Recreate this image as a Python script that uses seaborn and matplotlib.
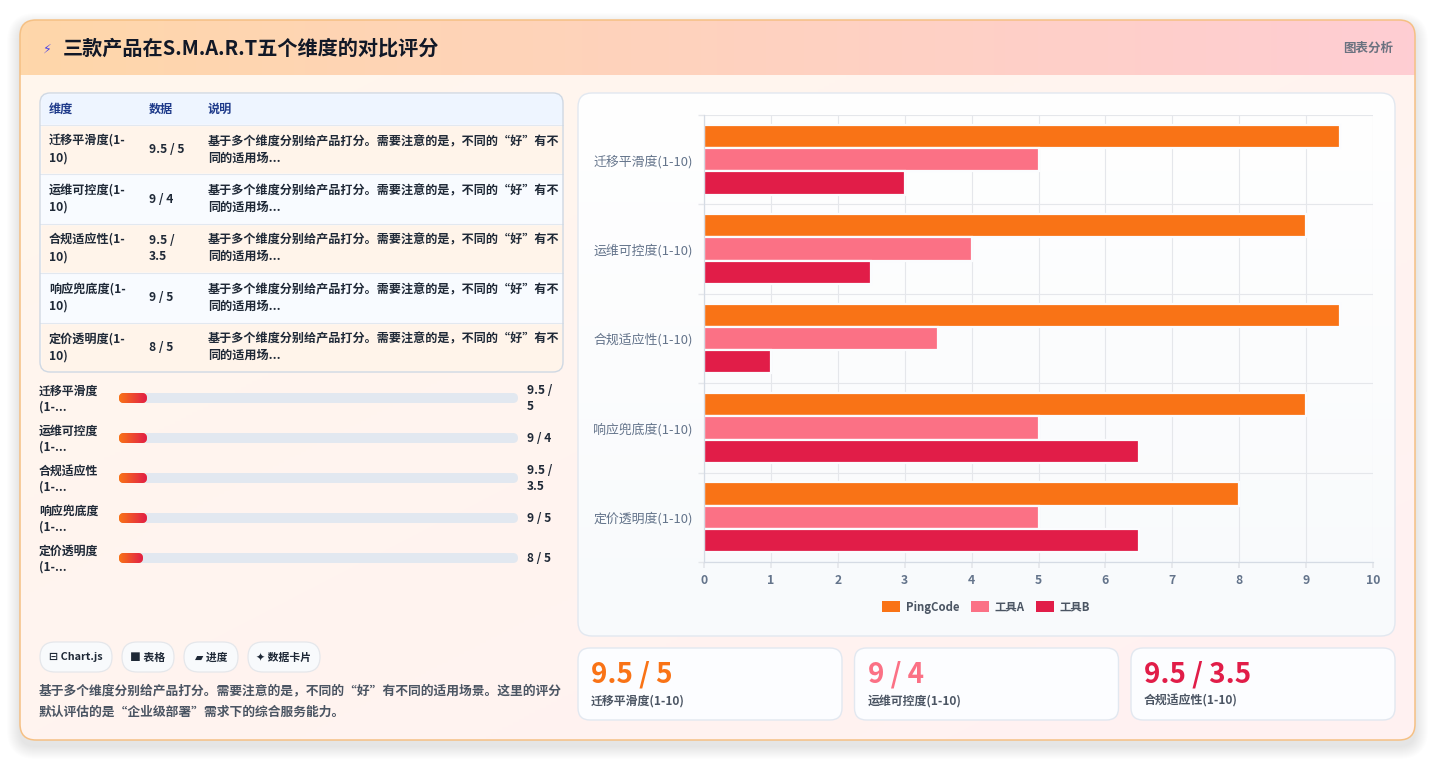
# ==========================================================
# S.M.A.R.T 五维度对比评分 - 仪表卡片
# ==========================================================

import numpy as np
import pandas as pd

import matplotlib
matplotlib.use("Agg")
import matplotlib.pyplot as plt
from matplotlib.patches import FancyBboxPatch, Rectangle
from matplotlib.colors import LinearSegmentedColormap
import seaborn as sns

# ==========================
# Data
# ==========================

dims = ["迁移平滑度(1-10)", "运维可控度(1-10)", "合规适应性(1-10)",
        "响应兜底度(1-10)", "定价透明度(1-10)"]
tools = ["PingCode", "工具A", "工具B"]
pingcode = [9.5, 9, 9.5, 9, 8]
tool_a = [5, 4, 3.5, 5, 5]
tool_b = [3, 2.5, 1, 6.5, 6.5]
progress_pct = [7, 7, 7, 7, 6]
x_ticks = list(range(0, 11))
chips = ["⊟ Chart.js", "■ 表格", "▰ 进度", "✦ 数据卡片"]
table_head = ["维度", "数据", "说明"]
row_note = "基于多个维度分别给产品打分。需要注意的是，不同的“好”有不\n同的适用场..."
note_lines = ["基于多个维度分别给产品打分。需要注意的是，不同的“好”有不同的适用场景。这里的评分",
              "默认评估的是“企业级部署”需求下的综合服务能力。"]
title = "三款产品在S.M.A.R.T五个维度的对比评分"

colors = ["#f97316", "#fb7185", "#e11d48"]
pairs = [f"{a:g} / {b:g}" for a, b in zip(pingcode, tool_a)]

# ==========================
# Figure setup
# ==========================

sns.set_theme(style="white")
plt.rcParams["font.family"] = ["Noto Sans CJK SC", "DejaVu Sans"]

fig = plt.figure(figsize=(14.35, 7.6), dpi=100)
fig.patch.set_facecolor("#ffffff")

bg = fig.add_axes([0, 0, 1, 1])
bg.set_xlim(0, 1435)
bg.set_ylim(760, 0)
bg.axis("off")


def rbox(x, y, w, h, r, fc="none", ec="none", lw=1.0, z=1, alpha=1.0):
    p = FancyBboxPatch((x, y), w, h, boxstyle=f"round,pad=0,rounding_size={r}",
                       fc=fc, ec=ec, lw=lw, zorder=z, alpha=alpha)
    bg.add_patch(p)
    return p


def gradient(clip, x, y, w, h, c1, c2, direction="h", z=1):
    t = np.linspace(0, 1, 256)
    if direction == "h":
        arr = t[None, :]
    elif direction == "v":
        arr = t[:, None]
    else:
        arr = (t[None, :] + t[:, None]) / 2
    cmap = LinearSegmentedColormap.from_list("g", [c1, c2])
    im = bg.imshow(arr, cmap=cmap, extent=[x, x + w, y + h, y], aspect="auto",
                   zorder=z, interpolation="bilinear", vmin=0, vmax=1)
    im.set_clip_path(clip)


# shadow + card
for i in range(1, 14):
    rbox(20 - i, 26 - i, 1395 + 2 * i, 720 + 2 * i, 16 + i, fc="#000000", alpha=0.007, z=0.5)

card = rbox(20, 20, 1395, 720, 16, fc="#fff6ee", z=1)
gradient(card, 20, 20, 1395, 720, "#fff7ed", "#fff1f2", "d", z=1.1)
gradient(card, 20, 20, 1395, 55, "#fed7aa", "#fecdd3", "h", z=1.2)
rbox(20, 20, 1395, 720, 16, ec="#f5c084", lw=1.1, z=9)

# header
bg.text(47, 49, "⚡", fontsize=9, color="#4f46e5", family="DejaVu Sans",
        va="center", ha="center", zorder=5)
bg.text(63, 48, title, fontsize=14.5, fontweight="bold", color="#111827",
        va="center", ha="left", zorder=5)
bg.text(1393, 48, "图表分析", fontsize=9, fontweight="bold", color="#6b7280",
        va="center", ha="right", zorder=5)

# ==========================
# Table
# ==========================

tb = rbox(40, 93, 523, 279, 10, fc="#ffffff", z=2)
head = Rectangle((40, 93), 523, 32, fc="#eef5ff", zorder=2.1)
bg.add_patch(head)
head.set_clip_path(tb)

row_h = 49.4
for j, h in enumerate(table_head):
    bg.text([49, 149, 208][j], 109, h, fontsize=8.7, fontweight="bold",
            color="#1e3a8a", va="center", zorder=5)

for i, d in enumerate(dims):
    y0 = 125 + i * row_h
    yc = y0 + row_h / 2
    r = Rectangle((40, y0), 523, row_h, fc="#fff4ea" if i % 2 == 0 else "#f8fbff", zorder=2.1)
    bg.add_patch(r)
    r.set_clip_path(tb)
    bg.plot([40, 563], [y0, y0], color="#e2e8f0", lw=0.8, zorder=2.2)
    bg.text(49, yc, d[:-3] + "\n" + d[-3:], fontsize=8.7, fontweight="bold", color="#1f2937",
            va="center", linespacing=1.35, zorder=5)
    val = pairs[i] if len(pairs[i]) <= 7 else pairs[i].replace(" / ", " /\n")
    bg.text(149, yc, val, fontsize=8.7, fontweight="bold", color="#1f2937",
            va="center", linespacing=1.35, zorder=5)
    bg.text(208, yc, row_note, fontsize=8.7, fontweight="bold", color="#1f2937",
            va="center", linespacing=1.35, zorder=5)

rbox(40, 93, 523, 279, 10, ec="#cfd8e3", lw=1, z=4)

# ==========================
# Progress bars
# ==========================

for i, d in enumerate(dims):
    yc = 398 + 40 * i
    bg.text(39, yc + 1, d[:5] + "\n(1-...", fontsize=8.6, fontweight="bold", color="#1f2937",
            va="center", linespacing=1.3, zorder=5)
    rbox(119, yc - 5, 399, 10, 5, fc="#e2e8f0", z=3)
    fill = rbox(119, yc - 5, 399 * progress_pct[i] / 100, 10, 5, fc="#f97316", z=3.1)
    gradient(fill, 119, yc - 5, 399 * progress_pct[i] / 100, 10, "#f97316", "#e11d48", "h", z=3.2)
    val = pairs[i] if len(pairs[i]) <= 5 else pairs[i].replace(" / ", " /\n")
    bg.text(527, yc + 1, val, fontsize=8.6, fontweight="bold", color="#1f2937",
            va="center", linespacing=1.3, zorder=5)

# chips
chip_x = [40, 122, 184, 248]
chip_w = [72, 52, 54, 72]
for cx, cw, label in zip(chip_x, chip_w, chips):
    rbox(cx, 642, cw, 30, 15, fc="#f8fafc", ec="#e5e7eb", lw=0.9, z=3)
    bg.text(cx + cw / 2, 657.5, label, fontsize=7.8, fontweight="bold", color="#1f2937",
            ha="center", va="center", zorder=5)

# footnote
for k, line in enumerate(note_lines):
    bg.text(39, 691 + 21 * k, line, fontsize=9.2, fontweight="bold", color="#4b5563",
            va="center", zorder=5)

# ==========================
# Chart panel
# ==========================

panel = rbox(578, 93, 817, 543, 14, fc="#ffffff", z=2)
gradient(panel, 578, 93, 817, 543, "#ffffff", "#f8fafc", "v", z=2.1)
rbox(578, 93, 817, 543, 14, ec="#e2e8f0", lw=1, z=4)

ax = fig.add_axes([704 / 1435, (760 - 562) / 760, 669 / 1435, 447 / 760])
ax.set_zorder(5)
ax.patch.set_alpha(0)

df = pd.DataFrame({
    "dim": dims * 3,
    "tool": np.repeat(tools, len(dims)),
    "score": pingcode + tool_a + tool_b,
})

sns.barplot(data=df, x="score", y="dim", hue="tool", palette=colors, orient="h",
            width=0.78, edgecolor="#fbfcfe", linewidth=1.6, saturation=1,
            errorbar=None, ax=ax)

ax.set_xlim(0, 10)
ax.set_ylim(4.5, -0.5)
ax.set_xticks(x_ticks)
ax.set_yticks(np.arange(-0.5, 5, 1), minor=True)
ax.set_axisbelow(True)
ax.xaxis.grid(True, color="#e5e7eb", lw=0.8)
ax.yaxis.grid(False, which="major")
ax.yaxis.grid(True, which="minor", color="#e5e7eb", lw=0.8)

for s in ["top", "right"]:
    ax.spines[s].set_visible(False)
ax.spines["left"].set_color("#d5dbe4")
ax.spines["bottom"].set_color("#d5dbe4")
ax.spines["left"].set_linewidth(0.9)
ax.spines["bottom"].set_linewidth(0.9)

ax.tick_params(axis="x", which="major", length=4.3, color="#e5e7eb", pad=4.3,
               labelsize=8.8, labelcolor="#64748b", bottom=True)
ax.tick_params(axis="y", which="major", length=0, pad=8, labelsize=9.3,
               labelcolor="#64748b")
ax.tick_params(axis="y", which="minor", length=4.3, color="#e5e7eb", left=True)
for lab in ax.get_xticklabels():
    lab.set_fontweight("bold")
ax.set_xlabel("")
ax.set_ylabel("")

handles, labels = ax.get_legend_handles_labels()
ax.get_legend().remove()
leg = ax.legend(handles, labels, loc="center", bbox_to_anchor=(0.4215, -0.1007), ncol=3,
                frameon=False, prop={"weight": "bold", "size": 8.2}, handlelength=1.6,
                handleheight=1.1, handletextpad=0.5, columnspacing=1.0, labelcolor="#4b5563")
for h in leg.legend_handles:
    h.set_edgecolor("none")

# ==========================
# Data cards
# ==========================

for i in range(3):
    x = 578 + i * 276.5
    rbox(x, 648, 264, 72, 12, fc="#fcfdff", ec="#e2e8f0", lw=1, z=3)
    bg.text(x + 13, 674, pairs[i], fontsize=20, fontweight="heavy", color=colors[i],
            va="center", zorder=5)
    bg.text(x + 13, 701, dims[i], fontsize=8.6, fontweight="bold", color="#4b5563",
            va="center", zorder=5)

bg.set_xlim(0, 1435)
bg.set_ylim(760, 0)

fig.savefig("out.png", dpi=100)
